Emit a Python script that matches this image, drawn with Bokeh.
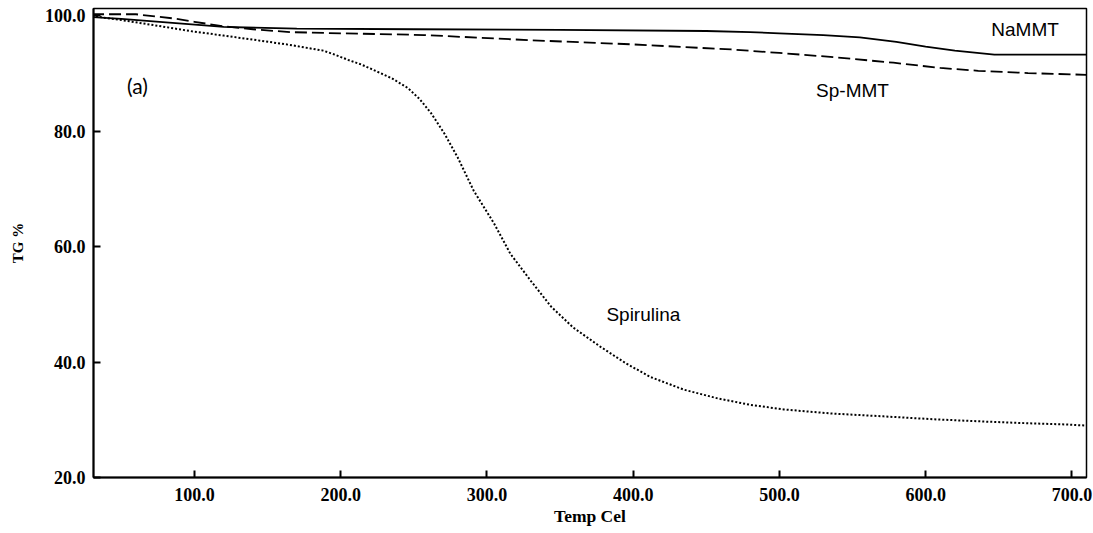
from bokeh.plotting import figure
from bokeh.models import Range1d, FixedTicker, Label
from bokeh.embed import file_html
from bokeh.resources import INLINE

# NaMMT (solid)
na_x = [30, 50, 85, 120, 170, 250, 350, 450, 480, 500, 530, 555, 580, 600, 620, 647, 710]
na_y = [99.8, 99.5, 98.8, 98.1, 97.8, 97.7, 97.6, 97.4, 97.2, 97.0, 96.7, 96.3, 95.5, 94.7, 94.0, 93.3, 93.3]

# Sp-MMT (dashed)
sp_x = [30, 60, 85, 100, 120, 140, 166, 200, 257, 330, 398, 467, 500, 540, 578, 610, 636, 670, 710]
sp_y = [100.3, 100.3, 99.6, 99.0, 98.2, 97.7, 97.2, 97.0, 96.7, 95.8, 95.1, 94.2, 93.6, 92.8, 91.9, 91.0, 90.5, 90.1, 89.8]

# Spirulina (dotted)
spi_x = [30, 50, 75, 97, 120, 143, 165, 188, 196, 205, 214, 222, 235, 246, 254, 262, 271, 280, 291, 305,
         316, 330, 344, 359, 378, 395, 412, 435, 458, 480, 503, 535, 571, 605, 640, 670, 695, 710]
spi_y = [100, 99.3, 98.3, 97.4, 96.6, 95.8, 95.0, 94.0, 93.3, 92.4, 91.6, 90.7, 89.2, 87.5, 85.6, 83.1, 79.6, 75.5, 69.7, 64.0,
         58.8, 54.1, 49.6, 46.0, 42.6, 39.8, 37.4, 35.2, 33.7, 32.6, 31.8, 31.1, 30.6, 30.1, 29.7, 29.4, 29.2, 29.0]

x_ticks = [100, 200, 300, 400, 500, 600, 700]
y_ticks = [20, 40, 60, 80, 100]

p = figure(width=1093, height=533, output_backend="svg", toolbar_location=None,
           x_range=Range1d(31, 710), y_range=Range1d(20, 101.3),
           min_border_left=93, min_border_right=7, min_border_top=8, min_border_bottom=56)
p.background_fill_color = "white"
p.border_fill_color = "white"
p.outline_line_color = "black"
p.outline_line_width = 1.5
p.xgrid.visible = False
p.ygrid.visible = False

p.line(na_x, na_y, line_color="black", line_width=1.8)
p.line(sp_x, sp_y, line_color="black", line_width=1.8, line_dash="12 5")
p.line(spi_x, spi_y, line_color="black", line_width=2, line_dash="2 2")

for ax in (p.xaxis[0], p.yaxis[0]):
    ax.axis_line_width = 2
    ax.axis_line_color = "black"
    ax.major_tick_in = 7
    ax.major_tick_out = 0
    ax.major_tick_line_width = 2
    ax.minor_tick_line_color = None
    ax.major_label_text_font = "Liberation Serif"
    ax.major_label_text_font_style = "bold"
    ax.major_label_text_font_size = "18px"
    ax.major_label_text_color = "black"
    ax.axis_label_text_font = "Liberation Serif"
    ax.axis_label_text_font_style = "bold"
    ax.axis_label_text_color = "black"

p.xaxis.ticker = FixedTicker(ticks=x_ticks)
p.yaxis.ticker = FixedTicker(ticks=y_ticks)
p.xaxis.major_label_overrides = {t: f"{t:.1f}" for t in x_ticks}
p.yaxis.major_label_overrides = {t: f"{t:.1f}" for t in y_ticks}
p.xaxis.major_label_standoff = 10
p.yaxis.major_label_standoff = 8
p.xaxis.axis_label = "Temp Cel"
p.yaxis.axis_label = "TG %"
p.xaxis.axis_label_text_font_size = "17.5px"
p.yaxis.axis_label_text_font_size = "15px"
p.xaxis.axis_label_standoff = 2
p.yaxis.axis_label_standoff = 16

lab_font = "Liberation Sans"
p.add_layout(Label(x=668, y=97.6, text="NaMMT", text_font=lab_font, text_font_size="19px",
                   text_align="center", text_baseline="middle", text_color="black"))
p.add_layout(Label(x=550, y=87.1, text="Sp-MMT", text_font=lab_font, text_font_size="19px",
                   text_align="center", text_baseline="middle", text_color="black"))
p.add_layout(Label(x=407, y=48.3, text="Spirulina", text_font=lab_font, text_font_size="19px",
                   text_align="center", text_baseline="middle", text_color="black"))
p.add_layout(Label(x=61, y=88.0, text="(a)", text_font="Lato", text_font_size="21px",
                   text_align="center", text_baseline="middle", text_color="black"))

open("out.html", "w").write(file_html(p, INLINE))
